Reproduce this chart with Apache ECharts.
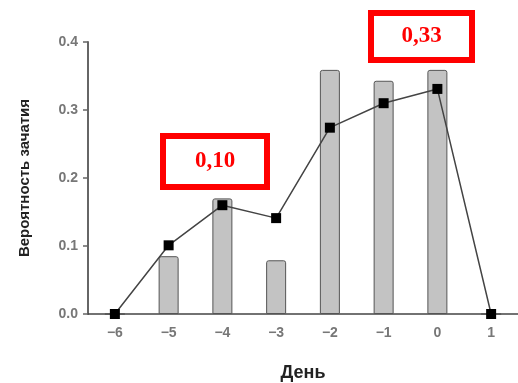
<!DOCTYPE html>
<html><head><meta charset="utf-8">
<script src="https://cdn.jsdelivr.net/npm/echarts@6/dist/echarts.min.js"></script>
<style>html,body{margin:0;padding:0;background:#fff}#c{width:518px;height:383px}</style>
</head><body><div id="c"></div>
<script>
const days = ['-6','-5','-4','-3','-2','-1','0','1'];
const barValues = [0, 0.085, 0.17, 0.079, 0.359, 0.343, 0.359, 0];
const lineValues = [0, 0.101, 0.16, 0.141, 0.274, 0.31, 0.331, 0];
const yTicks = [0, 0.1, 0.2, 0.3, 0.4];
const yName = 'Вероятность зачатия';
const xName = 'День';
const notes = ['0,10', '0,33'];

const chart = echarts.init(document.getElementById('c'), null, {renderer:'canvas'});
function box(x, y, w, h, t) {
  return [
    {type:'rect', shape:{x:x, y:y, width:w, height:h}, style:{fill:'#fff', stroke:'#ff0000', lineWidth:6}, z:100},
    {type:'text', x:x + w/2, y:y + h/2, style:{text:t, fill:'#ff0000', font:'bold 23px "Liberation Serif"', align:'center', verticalAlign:'middle'}, z:101}
  ];
}
chart.setOption({
  animation:false,
  grid:{left:88, right:0, top:42, bottom:69, outerBoundsMode:'none', containLabel:false},
  xAxis:{
    type:'category', data:days, boundaryGap:true,
    axisLine:{lineStyle:{color:'#444', width:1.5}},
    axisTick:{show:false},
    axisLabel:{color:'#777', fontSize:14, fontWeight:'bold', fontFamily:'Liberation Sans', margin:12,
      formatter:v => v.replace('-', '\u2212')},
    name:xName, nameLocation:'middle', nameGap:50,
    nameTextStyle:{color:'#222', fontSize:18, fontWeight:'bold', fontFamily:'Liberation Sans'}
  },
  yAxis:{
    type:'value', min:yTicks[0], max:yTicks[yTicks.length-1], interval:0.1,
    splitLine:{show:false},
    axisLine:{show:true, lineStyle:{color:'#666', width:2}},
    axisTick:{show:true, length:5, lineStyle:{color:'#666', width:1.5}},
    axisLabel:{color:'#777', fontSize:14, fontWeight:'bold', fontFamily:'Liberation Sans', margin:10,
      formatter:v => v.toFixed(1)},
    name:yName, nameLocation:'middle', nameGap:56,
    nameTextStyle:{color:'#222', fontSize:15, fontWeight:'bold', fontFamily:'"Liberation Sans Narrow", "Liberation Sans"'}
  },
  series:[
    {type:'bar', data:barValues, barWidth:20,
      itemStyle:{color:'#c3c3c3', borderColor:'#555', borderWidth:1, borderRadius:[2,2,0,0]}},
    {type:'line', data:lineValues, symbol:'rect', symbolSize:10,
      lineStyle:{color:'#444', width:1.5}, itemStyle:{color:'#000'}, z:5}
  ],
  graphic: box(163, 136, 104, 51, notes[0]).concat(box(371, 13, 101, 47, notes[1]))
});
</script></body></html>
